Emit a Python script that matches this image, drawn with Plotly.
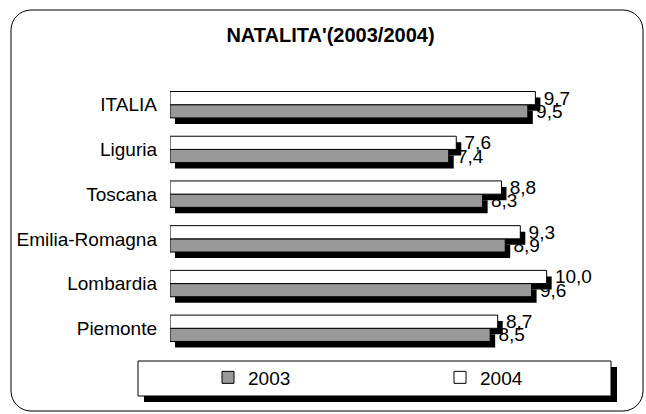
import plotly.graph_objects as go

# ---- data ----
regions = ["ITALIA", "Liguria", "Toscana", "Emilia-Romagna", "Lombardia", "Piemonte"]
values_2003 = [9.5, 7.4, 8.3, 8.9, 9.6, 8.5]
values_2004 = [9.7, 7.6, 8.8, 9.3, 10.0, 8.7]
series_names = ["2003", "2004"]
title_text = "NATALITA'(2003/2004)"

W, H = 646, 414
FONT = "Liberation Sans, Arial, Helvetica, sans-serif"


def fx(px):
    return px / W


def fy(py):
    return 1 - py / H


def lab(v):
    return " " + f"{v:.1f}".replace(".", ",")


cat_order = list(reversed(regions))  # ITALIA on top

# plot area in pixels
L, R, T, B = 170, 622, 82.35, 350.65
SDX, SDY = 5, 6  # shadow offset
XMAX = 12

fig = go.Figure()

# shadows (drawn first, on shifted axes)
for name, vals in zip(series_names, [values_2003, values_2004]):
    fig.add_trace(go.Bar(
        y=regions, x=vals, orientation="h", name=name + " shadow",
        marker=dict(color="black", line=dict(width=0)),
        showlegend=False, hoverinfo="skip", xaxis="x", yaxis="y",
    ))

# real bars
colors = ["#999999", "#ffffff"]
for name, vals, col in zip(series_names, [values_2003, values_2004], colors):
    fig.add_trace(go.Bar(
        y=regions, x=vals, orientation="h", name=name,
        marker=dict(color=col, line=dict(color="black", width=1)),
        text=[lab(v) for v in vals], textposition="outside",
        textfont=dict(family=FONT, size=19, color="black"),
        constraintext="none", cliponaxis=False,
        xaxis="x2", yaxis="y2",
    ))

axis_common = dict(showgrid=False, zeroline=False, showline=False, ticks="", automargin=False)

# outer rounded frame
x0, y0, x1, y1, r = 11, 10, 643, 411, 20
k = 0.45
path = (
    f"M {fx(x0 + r)},{fy(y0)} L {fx(x1 - r)},{fy(y0)} "
    f"C {fx(x1 - r * k)},{fy(y0)} {fx(x1)},{fy(y0 + r * k)} {fx(x1)},{fy(y0 + r)} "
    f"L {fx(x1)},{fy(y1 - r)} "
    f"C {fx(x1)},{fy(y1 - r * k)} {fx(x1 - r * k)},{fy(y1)} {fx(x1 - r)},{fy(y1)} "
    f"L {fx(x0 + r)},{fy(y1)} "
    f"C {fx(x0 + r * k)},{fy(y1)} {fx(x0)},{fy(y1 - r * k)} {fx(x0)},{fy(y1 - r)} "
    f"L {fx(x0)},{fy(y0 + r)} "
    f"C {fx(x0)},{fy(y0 + r * k)} {fx(x0 + r * k)},{fy(y0)} {fx(x0 + r)},{fy(y0)} Z"
)

shapes = [
    dict(type="path", xref="paper", yref="paper", path=path,
         line=dict(color="black", width=1), fillcolor="rgba(0,0,0,0)", layer="below"),
    # legend shadow + box
    dict(type="rect", xref="paper", yref="paper",
         x0=fx(144), x1=fx(617), y0=fy(402), y1=fy(367),
         fillcolor="black", line=dict(width=0), layer="below"),
    dict(type="rect", xref="paper", yref="paper",
         x0=fx(138), x1=fx(611), y0=fy(396), y1=fy(361),
         fillcolor="white", line=dict(color="black", width=1), layer="below"),
]

fig.update_layout(
    width=W, height=H,
    margin=dict(l=0, r=0, t=0, b=0, autoexpand=False),
    paper_bgcolor="white", plot_bgcolor="rgba(0,0,0,0)",
    barmode="group", bargap=0.41, bargroupgap=0,
    font=dict(family=FONT, size=19, color="black"),
    title=dict(text="<b>" + title_text + "</b>", x=fx(330.5), xanchor="center",
               y=fy(35), yanchor="middle", xref="paper", yref="paper",
               font=dict(family=FONT, size=20, color="black")),
    xaxis=dict(domain=[fx(L + SDX), fx(R + SDX)], range=[0, XMAX], visible=False,
               anchor="y", **axis_common),
    yaxis=dict(domain=[fy(B + SDY), fy(T + SDY)], type="category",
               categoryorder="array", categoryarray=cat_order, range=[-0.5, 5.5],
               visible=False, anchor="x", **axis_common),
    xaxis2=dict(domain=[fx(L), fx(R)], range=[0, XMAX], visible=False,
                anchor="y2", **axis_common),
    yaxis2=dict(domain=[fy(B), fy(T)], type="category",
                categoryorder="array", categoryarray=cat_order, range=[-0.5, 5.5],
                anchor="x2", showticklabels=True, ticklabelstandoff=12,
                tickfont=dict(family=FONT, size=19, color="black"), **axis_common),
    legend=dict(orientation="h", x=fx(208), xanchor="left", y=fy(377.5), yanchor="middle",
                bgcolor="rgba(0,0,0,0)", borderwidth=0, traceorder="normal",
                entrywidth=187, entrywidthmode="pixels",
                font=dict(family=FONT, size=19, color="black")),
    shapes=shapes,
    showlegend=True,
)

fig.write_html("out.html", config={"displayModeBar": False},
               post_script="document.body.style.margin='0px';")
